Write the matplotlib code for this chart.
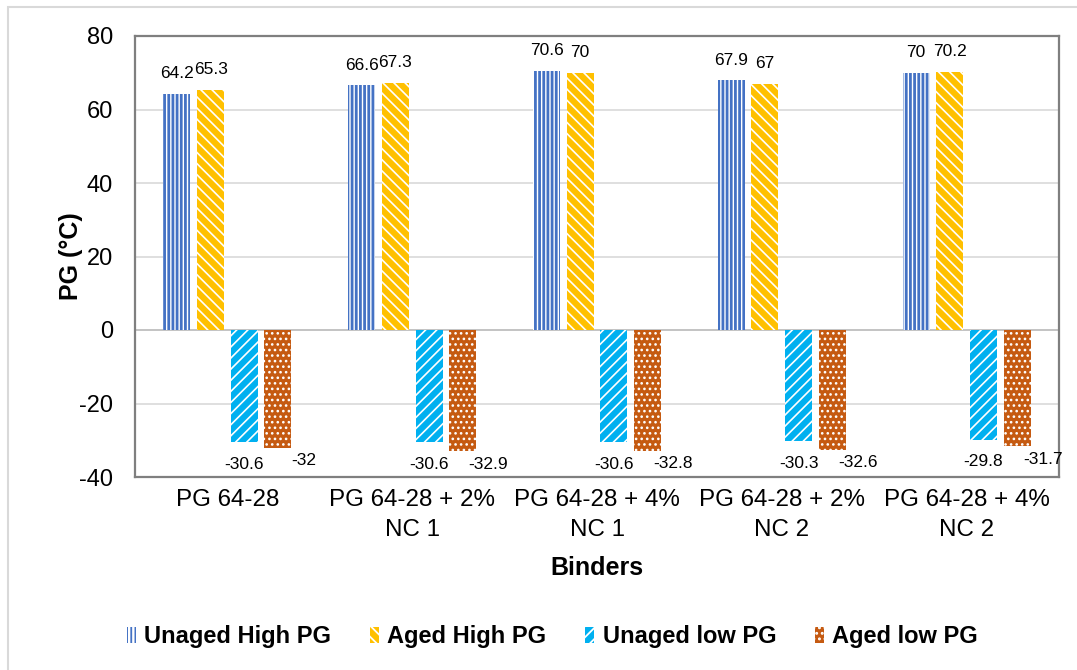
import numpy as np
import matplotlib
matplotlib.use("Agg")
import matplotlib.pyplot as plt
from matplotlib.patches import Rectangle, Patch

plt.rcParams['font.family'] = ['Liberation Sans', 'DejaVu Sans']
plt.rcParams['axes.unicode_minus'] = False
plt.rcParams['hatch.linewidth'] = 1.3

binders = ["PG 64-28", "PG 64-28 + 2%\nNC 1", "PG 64-28 + 4%\nNC 1",
           "PG 64-28 + 2%\nNC 2", "PG 64-28 + 4%\nNC 2"]
unaged_high = [64.2, 66.6, 70.6, 67.9, 70.0]
aged_high = [65.3, 67.3, 70.0, 67.0, 70.2]
unaged_low = [-30.6, -30.6, -30.6, -30.3, -29.8]
aged_low = [-32.0, -32.9, -32.8, -32.6, -31.7]
series_names = ["Unaged High PG", "Aged High PG", "Unaged low PG", "Aged low PG"]
y_ticks = [-40, -20, 0, 20, 40, 60, 80]

# (face, hatch colour, hatch, hatch line width)
styles = [
    ("white", "#4472C4", "||||", 2.0),
    ("#FFC000", "white", "\\\\\\", 1.2),
    ("#00B0F0", "white", "///", 1.2),
    ("#C55A11", "white", "...", 1.1),
]


def set_hatch_lw(artist, lw):
    if hasattr(artist, "set_hatch_linewidth"):
        artist.set_hatch_linewidth(lw)


fig = plt.figure(figsize=(10.77, 6.70), dpi=100)
ax = fig.add_axes([135 / 1077, 1 - 477 / 670, (1059 - 135) / 1077, (477 - 36) / 670])

x = np.arange(len(binders))
width = 0.146
pitch = 0.182
offsets = [-1.5 * pitch, -0.5 * pitch, 0.5 * pitch, 1.5 * pitch]
data = [unaged_high, aged_high, unaged_low, aged_low]

for i, (vals, off, (fc, hc, hatch, hlw)) in enumerate(zip(data, offsets, styles)):
    bars = ax.bar(x + off, vals, width, color=fc, edgecolor=hc, hatch=hatch,
                  linewidth=0, zorder=3)
    for b, v in zip(bars, vals):
        set_hatch_lw(b, hlw)
        cx = b.get_x() + b.get_width() / 2
        label = f"{v:g}"
        if i < 2:
            xy_off = (0, 14.5)
        elif i == 2:
            xy_off = (0, -16)
        else:
            xy_off = (18.5, -9.5)
        ax.annotate(label, (cx, v), xytext=xy_off, textcoords="offset points",
                    ha="center", va="center", fontsize=12.5)

ax.set_xlim(-0.5, len(binders) - 0.5)
ax.set_ylim(-40, 80)
ax.set_yticks(y_ticks)
ax.set_xticks(x)
ax.set_xticklabels(binders, fontsize=17.4, linespacing=1.42)
ax.tick_params(axis='y', labelsize=17, length=0, pad=16)
ax.tick_params(axis='x', length=0, pad=9)
ax.yaxis.grid(True, color="#d9d9d9", linewidth=1.2, zorder=0)
ax.axhline(0, color="#bfbfbf", linewidth=1.2, zorder=2)
for s in ax.spines.values():
    s.set_color("#7f7f7f")
    s.set_linewidth(1.6)

ax.set_ylabel("PG (°C)", fontsize=18, fontweight="bold")
ax.yaxis.set_label_coords(-0.0565, 0.5)
ax.set_xlabel("Binders", fontsize=18, fontweight="bold", labelpad=11)

handles = []
for fc, hc, hatch, hlw in styles:
    h = Patch(facecolor=fc, edgecolor=hc, hatch=hatch, linewidth=0)
    set_hatch_lw(h, hlw)
    handles.append(h)
fig.legend(handles, series_names, loc="center", bbox_to_anchor=(552.5 / 1077, 1 - 637 / 670),
           ncol=4, frameon=False, prop={"weight": "bold", "size": 17},
           handlelength=0.38, handleheight=0.65, handletextpad=0.35,
           columnspacing=1.65)

fig.patches.append(Rectangle((8 / 1077, -0.05), 1.1, 1 - 7 / 670 + 0.05,
                             transform=fig.transFigure, fill=False,
                             edgecolor="#d9d9d9", linewidth=1.5))

fig.savefig("out.png", dpi=100)
